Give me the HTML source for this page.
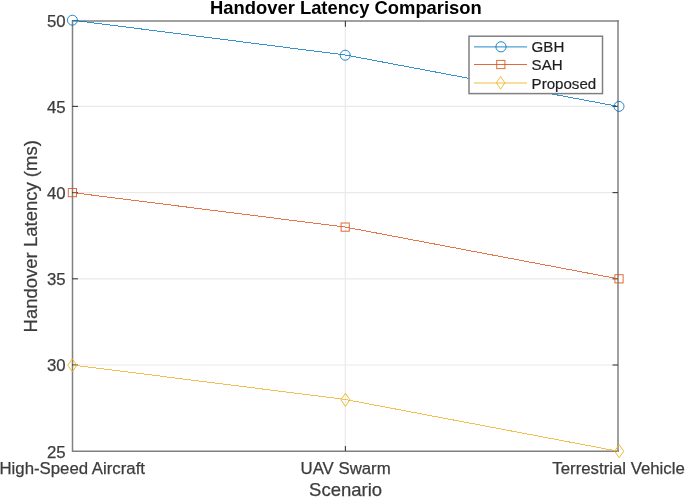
<!DOCTYPE html>
<html><head><meta charset="utf-8">
<style>
html,body{margin:0;padding:0;background:#fff;}
body{width:685px;height:498px;overflow:hidden;}
svg{display:block;font-family:"Liberation Sans",sans-serif;}
.t{filter:grayscale(1);stroke:#3c3c3c;stroke-width:0.25px;}
.tb{filter:grayscale(1);}
.tl{filter:grayscale(1);stroke:#1e1e1e;stroke-width:0.2px;}
</style></head>
<body>
<svg width="685" height="498" viewBox="0 0 685 498">
<rect x="0" y="0" width="685" height="498" fill="#fff"/>
<!-- grid -->
<g stroke="#e9e9e9" stroke-width="1.2" fill="none">
<line x1="73" y1="106.4" x2="617" y2="106.4"/>
<line x1="73" y1="192.6" x2="617" y2="192.6"/>
<line x1="73" y1="278.8" x2="617" y2="278.8"/>
<line x1="73" y1="365" x2="617" y2="365"/>
<line x1="345.3" y1="21" x2="345.3" y2="451"/>
</g>
<!-- axes box -->
<g stroke="#808080" stroke-width="1.5" fill="none">
<line x1="72.5" y1="20.2" x2="72.5" y2="452"/>
<line x1="618" y1="20.2" x2="618" y2="452"/>
<line x1="72" y1="21" x2="618.7" y2="21"/>
<line x1="72" y1="451.3" x2="618.7" y2="451.3"/>
</g>
<g stroke="#3c3c3c" stroke-width="1.1" fill="none">
<!-- ticks -->
<line x1="72" y1="106.4" x2="78" y2="106.4"/>
<line x1="72" y1="192.6" x2="78" y2="192.6"/>
<line x1="72" y1="278.8" x2="78" y2="278.8"/>
<line x1="72" y1="365" x2="78" y2="365"/>
<line x1="612.5" y1="106.4" x2="618" y2="106.4"/>
<line x1="612.5" y1="192.6" x2="618" y2="192.6"/>
<line x1="612.5" y1="278.8" x2="618" y2="278.8"/>
<line x1="612.5" y1="365" x2="618" y2="365"/>
<line x1="345.4" y1="451" x2="345.4" y2="446"/>
<line x1="345.4" y1="21" x2="345.4" y2="26.8"/>
</g>
<!-- tick labels -->
<g class="t" fill="#3c3c3c" font-size="16.8" text-anchor="end">
<text x="65.6" y="26.7">50</text>
<text x="65.6" y="112.7">45</text>
<text x="65.6" y="198.9">40</text>
<text x="65.6" y="285.1">35</text>
<text x="65.6" y="371.3">30</text>
<text x="65.6" y="457.6">25</text>
</g>
<g class="t" fill="#3c3c3c" font-size="16.8" text-anchor="middle">
<text x="72.2" y="474.3">High-Speed Aircraft</text>
<text x="345.6" y="474.3">UAV Swarm</text>
<text x="618.6" y="474.3">Terrestrial Vehicle</text>
</g>
<text class="t" x="345.6" y="496.3" fill="#3c3c3c" font-size="18.5" text-anchor="middle">Scenario</text>
<text class="t" transform="translate(36.6,236.3) rotate(-90)" fill="#3c3c3c" font-size="18.5" text-anchor="middle">Handover Latency (ms)</text>
<text class="tb" x="345.9" y="14" fill="#000" font-size="18.4" font-weight="bold" text-anchor="middle">Handover Latency Comparison</text>
<!-- data -->
<g fill="none" stroke-width="1">
<polyline shape-rendering="crispEdges" stroke-opacity="0.78" stroke="#0072BD" points="72.5,20.2 345.3,55 618,106.4"/>
<polyline shape-rendering="crispEdges" stroke-opacity="0.78" stroke="#D95319" points="72.5,192.6 345.3,227.08 618,278.8"/>
<polyline shape-rendering="crispEdges" stroke-opacity="0.78" stroke="#EDB120" points="72.5,365 345.3,399.48 618,451.2"/>
<g stroke="#0072BD" stroke-opacity="0.85">
<circle cx="72.4" cy="20.2" r="5"/><circle cx="345.2" cy="55.2" r="5"/><circle cx="619" cy="106.4" r="5"/>
</g>
<g stroke="#D95319" stroke-opacity="0.85">
<rect x="68.3" y="188.5" width="8.2" height="8.2"/><rect x="341.1" y="223" width="8.2" height="8.2"/><rect x="614.9" y="274.7" width="8.2" height="8.2"/>
</g>
<g stroke="#EDB120" stroke-opacity="0.9">
<path d="M72.3,358.8 L76.8,365.3 L72.3,371.8 L67.8,365.3 Z"/>
<path d="M345.4,393.3 L349.9,399.8 L345.4,406.3 L340.9,399.8 Z"/>
<path d="M619.2,444.7 L623.7,451.2 L619.2,457.7 L614.7,451.2 Z"/>
</g>
</g>
<!-- legend -->
<rect x="469" y="36.2" width="133.5" height="57.4" fill="#fff" stroke="#808080" stroke-width="1.5"/>
<g fill="none" stroke-width="1" stroke-opacity="0.85">
<line x1="474" y1="46.9" x2="527" y2="46.9" stroke="#0072BD"/>
<circle cx="501" cy="46.8" r="5.1" stroke="#0072BD"/>
<line x1="474" y1="64.5" x2="527" y2="64.5" stroke="#D95319"/>
<rect x="496.7" y="60.4" width="8.2" height="8.2" stroke="#D95319"/>
<line x1="474" y1="83" x2="527" y2="83" stroke="#EDB120"/>
<path d="M500.6,76.4 L504.8,82.8 L500.6,89.2 L496.4,82.8 Z" stroke="#EDB120"/>
</g>
<g class="tl" fill="#1e1e1e" font-size="15.1">
<text x="531.6" y="52.2">GBH</text>
<text x="531.6" y="70.1">SAH</text>
<text x="531.6" y="89">Proposed</text>
</g>
</svg>
</body></html>
